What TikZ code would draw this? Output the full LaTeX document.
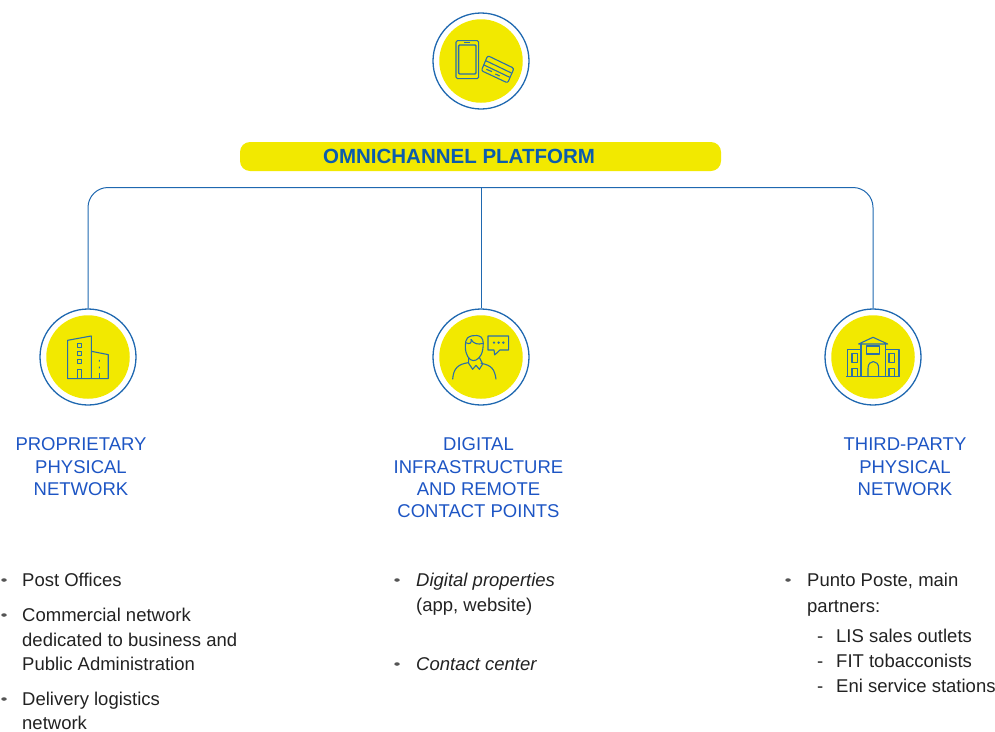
\documentclass[tikz,border=0pt]{standalone}
\usepackage{fontspec}
\setmainfont{Liberation Sans}
\usetikzlibrary{shapes.geometric}
\definecolor{ringblue}{HTML}{1F68B0}
\definecolor{iconblue}{HTML}{2A6FA8}
\definecolor{yel}{HTML}{F2E900}
\definecolor{titleblue}{HTML}{0B5CAD}
\definecolor{labelblue}{HTML}{1D55C4}
\definecolor{bodytext}{HTML}{222222}
\definecolor{bulletc}{HTML}{555555}
\newcommand{\fl}{\rule{0pt}{13pt}}
\tikzset{
  ring/.style={circle,draw=ringblue,line width=1.3pt,minimum size=96pt,inner sep=0pt},
  disc/.style={circle,fill=yel,minimum size=83.5pt,inner sep=0pt},
  conn/.style={draw=ringblue,line width=1pt},
  icon/.style={draw=iconblue,line width=1.1pt,line join=round},
  label/.style={text=labelblue,font=\fontsize{18.5}{22.4}\selectfont,align=center,inner sep=0pt,anchor=north},
  body/.style={text=bodytext,font=\fontsize{18.5}{24.4}\selectfont,align=left,inner sep=0pt,anchor=north west},
  bul/.style={ellipse,fill=bulletc,minimum width=5.5pt,minimum height=3.5pt,inner sep=0pt},
}
\begin{document}
\begin{tikzpicture}[x=1pt,y=-1pt]
\useasboundingbox (0,0) rectangle (995,731);
% rings
\foreach \n/\cx/\cy in {top/481/61,lft/88/357,mid/481/357,rgt/873/357}{
  \node[disc] at (\cx,\cy) {};
  \node[ring] (\n) at (\cx,\cy) {};
}
% platform
\node[fill=yel,rounded corners=10pt,minimum width=481pt,minimum height=29pt,inner sep=0pt,
  text=titleblue,font=\fontsize{20.5}{22}\bfseries\selectfont] (plat) at (480.5,156.5) {OMNICHANNEL PLATFORM\hspace{43pt}\mbox{}};
% connectors
\coordinate (bus) at (481,187.5);
\draw[conn,rounded corners=20pt] (lft.north) |- (bus) -| (rgt.north);
\draw[conn] (bus) -- (mid.north);
% icon top
\begin{scope}[shift={(481,61.3)},x=.3333pt,y=-.3333pt,shift={(-242,-184)}]
 \draw[icon,rounded corners=1.5pt] (167,122) rectangle (235,236);
 \draw[icon,rounded corners=1pt,line width=1.4pt] (175,135) rectangle (227,222);
 \draw[icon] (192,127) -- (210,127);
 \draw[icon,rounded corners=2pt] (262,167) -- (341,205) -- (322,249) -- (243,212) -- cycle;
 \draw[icon] (256,182) -- (333,219) (251,195) -- (328,232);
 \draw[icon] (258,208) -- (275,215) (285,222) -- (298,228);
\end{scope}
% icon buildings
\begin{scope}[shift={(88.3,357.3)},x=.3333pt,y=-.3333pt,shift={(-205,-172)}]
 \draw[icon] (143,236) -- (143,121) -- (214,108) -- (214,236) -- cycle;
 \draw[icon] (214,154) -- (265,164) -- (265,236) -- (214,236);
 \foreach \wy in {136,161,185}{\draw[icon] (172,\wy-6) rectangle (184,\wy+6);}
 \draw[icon] (172,236) -- (172,208) -- (184,208) -- (184,236);
 \fill[iconblue] (237,180) rectangle (240,185) (237,200) rectangle (240,205);
 \draw[icon] (238.5,220) -- (238.5,236);
\end{scope}
% icon person
\begin{scope}[shift={(481,357.3)},x=.3333pt,y=-.3333pt,shift={(-183,-172)}]
 \draw[icon] (204,108) -- (266,108) -- (266,150) -- (240,150) -- (224,165) -- (222,150) -- (204,150) -- cycle;
 \fill[iconblue] (222,128) circle (4) (236,128) circle (4) (250,128) circle (4);
 \draw[icon] (137,125) .. controls (137,108) and (170,100) .. (184,112) .. controls (192,122) and (190,135) .. (188,150) .. controls (184,172) and (170,182) .. (160,182) .. controls (148,182) and (136,165) .. (136,140) -- cycle;
 \draw[icon] (137,128) .. controls (150,135) and (156,128) .. (153,118);
 \draw[icon] (153,118) .. controls (160,132) and (175,135) .. (189,130);
 \draw[icon] (146,172) -- (146,190) -- (158,208) -- (168,196) -- (178,208) -- (188,192) -- (178,172);
 \draw[icon] (98,238) .. controls (100,205) and (115,192) .. (146,188);
 \draw[icon] (228,238) .. controls (224,208) and (215,195) .. (182,190);
\end{scope}
% icon station
\begin{scope}[shift={(873,357.3)},x=.3333pt,y=-.3333pt,shift={(-188,-172)}]
 \draw[icon] (152,230) -- (152,130) (226,130) -- (226,230);
 \draw[icon] (145,132) -- (188,112) -- (232,132) -- cycle;
 \draw[icon] (169,138) rectangle (207,162);
 \draw[icon] (173,230) -- (173,205) .. controls (173,178) and (205,178) .. (205,205) -- (205,230);
 \draw[icon] (152,148) -- (112,148) -- (112,230);
 \draw[icon] (226,148) -- (266,148) -- (266,230);
 \draw[icon] (125,160) rectangle (142,188) (236,160) rectangle (253,188);
 \draw[icon] (125,230) -- (125,205) -- (142,205) -- (142,230) (236,230) -- (236,205) -- (253,205) -- (253,230);
 \draw[icon,line width=1.6pt] (108,230) -- (270,230);
\end{scope}
% labels
\node[label] (l1) at (81,437.5) {\fl PROPRIETARY\\PHYSICAL\\NETWORK};
\node[label] (l2) at (478.5,437.5) {\fl DIGITAL\\INFRASTRUCTURE\\AND REMOTE\\CONTACT POINTS};
\node[label] (l3) at (905,437.5) {\fl THIRD-PARTY\\PHYSICAL\\NETWORK};
% left list
\node[bul] (b1) at (4,580) {};
\node[body] (t1) at (22,573) {\fl Post Offices};
\node[bul] (b2) at (4,615) {};
\node[body] (t2) at (22,608) {\fl Commercial network\\dedicated to business and\\Public Administration};
\node[bul] (b3) at (4,699) {};
\node[body,font=\fontsize{18.5}{24}\selectfont] (t3) at (22,692) {\fl Delivery logistics\\network};
% middle list
\node[bul] (b4) at (397,580) {};
\node[body] (t4) at (416,573) {\fl\textit{Digital properties}\\(app, website)};
\node[bul] (b5) at (397,664) {};
\node[body] (t5) at (416,657) {\fl\textit{Contact center}};
% right list
\node[bul] (b6) at (788,580) {};
\node[body,font=\fontsize{18.5}{26}\selectfont] (t6) at (807,573) {\fl Punto Poste, main\\partners:};
\node[body] (s1) at (817,629) {\fl\makebox[19pt][l]{-}LIS sales outlets};
\node[body] (s2) at (817,654) {\fl\makebox[19pt][l]{-}FIT tobacconists};
\node[body] (s3) at (817,679) {\fl\makebox[19pt][l]{-}Eni service stations};
\end{tikzpicture}
\end{document}
